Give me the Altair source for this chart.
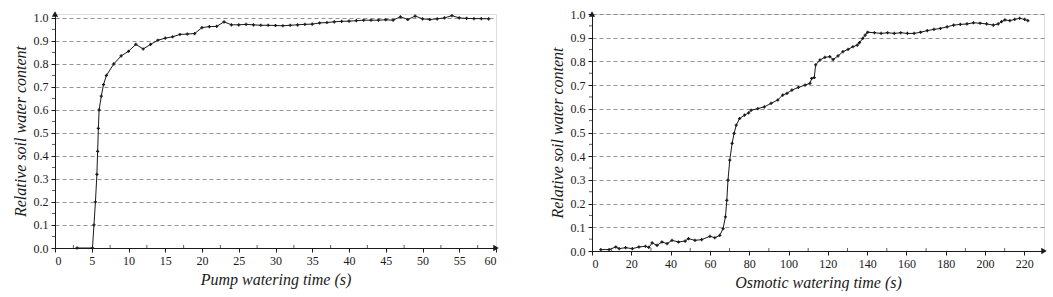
import altair as alt
import pandas as pd

# ---- Pump watering (left panel) ----
pump_t = [3, 5.1, 5.3, 5.5, 5.7, 5.8, 5.9, 6.0, 6.3, 6.6, 7, 8, 9, 10, 11, 12, 13, 14, 15, 16,
          17, 18, 19, 20, 21, 22, 23, 24, 25, 26, 27, 28, 29, 30, 31, 32, 33, 34, 35, 36,
          37, 38, 39, 40, 41, 42, 43, 44, 45, 46, 47, 48, 49, 50, 51, 52, 53, 54, 55, 56,
          57, 58, 59]
pump_v = [0.0, 0.0, 0.1, 0.2, 0.32, 0.42, 0.52, 0.6, 0.66, 0.71, 0.75, 0.80, 0.835, 0.855, 0.885,
          0.865, 0.885, 0.903, 0.912, 0.918, 0.928, 0.93, 0.932, 0.958, 0.962, 0.963, 0.983,
          0.97, 0.97, 0.972, 0.97, 0.968, 0.968, 0.967, 0.966, 0.968, 0.97, 0.972, 0.973,
          0.978, 0.98, 0.983, 0.985, 0.986, 0.988, 0.99, 0.99, 0.99, 0.992, 0.99, 1.005,
          0.993, 1.008, 0.996, 0.993, 0.996, 1.0, 1.01, 1.0, 0.998, 0.997, 0.997, 0.996]

# ---- Osmotic watering (right panel) ----
osm_t = [4.5, 8.7, 12.1, 13.8, 17.1, 20.5, 23.9, 27.2, 28.9, 30.6, 33.1, 35.6, 38.2, 40.7, 44.0,
         47.4, 49.1, 52.4, 55.8, 60.0, 62.5, 65.0, 66.7, 67.9, 68.6, 69.2, 70.1, 71.3, 72.3,
         73.4, 75.1, 77.6, 79.7, 81.0, 84.4, 87.7, 91.1, 94.5, 97.0, 99.2, 101.7, 105.0,
         108.4, 110.9, 111.8, 113.1, 113.8, 116.0, 118.5, 121.0, 122.7, 125.2, 127.7, 130.3,
         132.8, 135.0, 136.1, 137.8, 139.0, 140.3, 143.7, 147.1, 150.4, 153.8, 157.1, 160.5,
         163.9, 167.2, 170.6, 174.0, 177.3, 180.7, 184.0, 187.4, 190.8, 194.1, 197.5, 200.8,
         204.2, 206.7, 208.4, 210.1, 212.6, 215.1, 217.6, 220.2, 221.8]
osm_v = [0.006, 0.006, 0.017, 0.01, 0.014, 0.01, 0.017, 0.02, 0.015, 0.034, 0.024, 0.038, 0.031,
         0.045, 0.038, 0.042, 0.052, 0.045, 0.048, 0.062, 0.056, 0.066, 0.094, 0.144, 0.214,
         0.299, 0.383, 0.454, 0.496, 0.531, 0.559, 0.573, 0.583, 0.594, 0.601, 0.608, 0.623,
         0.637, 0.658, 0.665, 0.679, 0.69, 0.70, 0.707, 0.728, 0.732, 0.785, 0.806, 0.817,
         0.82, 0.808, 0.823, 0.841, 0.851, 0.862, 0.869, 0.879, 0.897, 0.911, 0.923, 0.921,
         0.918, 0.921, 0.918, 0.921, 0.918, 0.918, 0.923, 0.93, 0.935, 0.939, 0.946, 0.953,
         0.956, 0.958, 0.963, 0.961, 0.958, 0.953, 0.958, 0.968, 0.975, 0.972, 0.977, 0.982,
         0.977, 0.972]

y_ticks = [0.0, 0.1, 0.2, 0.3, 0.4, 0.5, 0.6, 0.7, 0.8, 0.9, 1.0]
y_minor = [0.05, 0.15, 0.25, 0.35, 0.45, 0.55, 0.65, 0.75, 0.85, 0.95]
pump_xticks = [0, 5, 10, 15, 20, 25, 30, 35, 40, 45, 50, 55, 60]
pump_xminor = [2.5, 7.5, 12.5, 17.5, 22.5, 27.5, 32.5, 37.5, 42.5, 47.5, 52.5, 57.5]
osm_xticks = [0, 20, 40, 60, 80, 100, 120, 140, 160, 180, 200, 220]
osm_xminor = [10, 30, 50, 70, 90, 110, 130, 150, 170, 190, 210]

FONT = "Liberation Serif, Times New Roman, serif"
INK = "#1a1a1a"


def panel(ts, vs, xdom, xticks, xminor, w, h, ydom, xtitle):
    df = pd.DataFrame({"t": ts, "v": vs})
    xs = alt.Scale(domain=xdom, nice=False, zero=False)
    ys = alt.Scale(domain=ydom, nice=False)
    xaxis = alt.Axis(values=xticks, title=xtitle, grid=False, format="d",
                     labelFont=FONT, labelFontSize=12, labelColor=INK, labelOverlap=False,
                     titleFont=FONT, titleFontSize=16, titleFontStyle="italic",
                     titleFontWeight="normal", titleColor=INK, titlePadding=5,
                     domainColor=INK, tickColor=INK, tickSize=4, labelPadding=3)
    yaxis = alt.Axis(values=y_ticks, title="Relative soil water content", format=".1f",
                     grid=True, gridDash=[4, 3], gridColor="#777", gridWidth=0.8,
                     labelFont=FONT, labelFontSize=12, labelColor=INK, labelOverlap=False,
                     titleFont=FONT, titleFontSize=16, titleFontStyle="italic",
                     titleFontWeight="normal", titleColor=INK, titlePadding=5,
                     domainColor=INK, tickColor=INK, tickSize=4, labelPadding=3)
    X = alt.X("t:Q", scale=xs, axis=xaxis)
    Y = alt.Y("v:Q", scale=ys, axis=yaxis)
    line = alt.Chart(df).mark_line(
        color=INK, strokeWidth=1,
        point=alt.OverlayMarkDef(shape="cross", size=10, color=INK, filled=True),
    ).encode(x=X, y=Y)

    # minor ticks: x ones point up into the plot, y ones point outward (left)
    xm = alt.Chart(pd.DataFrame({"t": xminor, "v": [0.0] * len(xminor)})).mark_tick(
        orient="vertical", size=3, thickness=1, color=INK, yOffset=-1.5
    ).encode(x=X, y=Y)
    ym = alt.Chart(pd.DataFrame({"t": [xdom[0]] * len(y_minor), "v": y_minor})).mark_tick(
        orient="horizontal", size=3, thickness=1, color=INK, xOffset=-1.5
    ).encode(x=X, y=Y)

    arr_x = alt.Chart(pd.DataFrame({"t": [xdom[1]], "v": [0.0]})).mark_point(
        shape="triangle-right", size=40, filled=True, color=INK, opacity=1
    ).encode(x=X, y=Y)
    arr_y = alt.Chart(pd.DataFrame({"t": [xdom[0]], "v": [ydom[1]]})).mark_point(
        shape="triangle-up", size=40, filled=True, color=INK, opacity=1
    ).encode(x=X, y=Y)

    return alt.layer(line, xm, ym, arr_x, arr_y).properties(width=w, height=h)


left = panel(pump_t, pump_v, [0, 60], pump_xticks, pump_xminor, 441, 234, [0, 1.017],
             "Pump watering time (s)")
right = panel(osm_t, osm_v, [0, 230], osm_xticks, osm_xminor, 452, 237, [0, 1.0],
              "Osmotic watering time (s)")

chart = alt.hconcat(left, right, spacing=48).properties(
    padding={"left": 11, "top": 7, "right": 0, "bottom": 0}
).configure_view(stroke=None).configure(background="white")

chart.save("out.html", embed_options={"renderer": "svg", "actions": False})
